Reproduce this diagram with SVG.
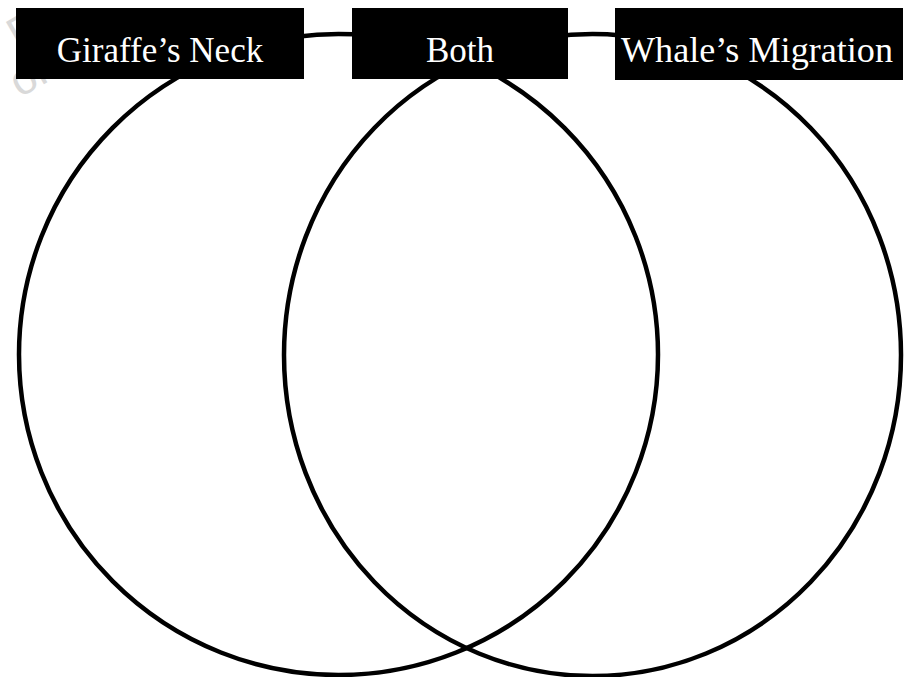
<svg xmlns="http://www.w3.org/2000/svg" width="913" height="677" viewBox="0 0 913 677">
  <style>
    .circle { fill: none; stroke: #000; stroke-width: 4.5; }
    .box { fill: #000; }
    .label { fill: #fff; font-family: "Liberation Serif", "Times New Roman", serif; font-size: 35px; text-anchor: middle; }
    .wm { fill: #d9d9d9; font-family: "Liberation Sans", Arial, sans-serif; font-size: 44px; }
  </style>
  <rect width="913" height="677" fill="#fff"/>
  <g id="watermark">
    <text class="wm" x="18" y="50" transform="rotate(-30 18 50)">P</text>
    <text class="wm" x="20" y="98" transform="rotate(-30 20 98)">or</text>
  </g>
  <g id="connectors">
    <ellipse id="circle-left" class="circle" cx="338.5" cy="354.5" rx="319.5" ry="320.5"/>
    <ellipse id="circle-right" class="circle" cx="592.5" cy="355" rx="308.5" ry="321"/>
  </g>
  <g id="node-giraffe">
    <rect class="box" x="16" y="8" width="288" height="71"/>
    <text class="label" x="160" y="62">Giraffe’s Neck</text>
  </g>
  <g id="node-both">
    <rect class="box" x="352" y="8" width="216" height="71"/>
    <text class="label" x="460" y="62">Both</text>
  </g>
  <g id="node-whale">
    <rect class="box" x="615" y="8" width="288" height="72"/>
    <text class="label" x="757" y="62" textLength="272" lengthAdjust="spacingAndGlyphs">Whale’s Migration</text>
  </g>
</svg>
